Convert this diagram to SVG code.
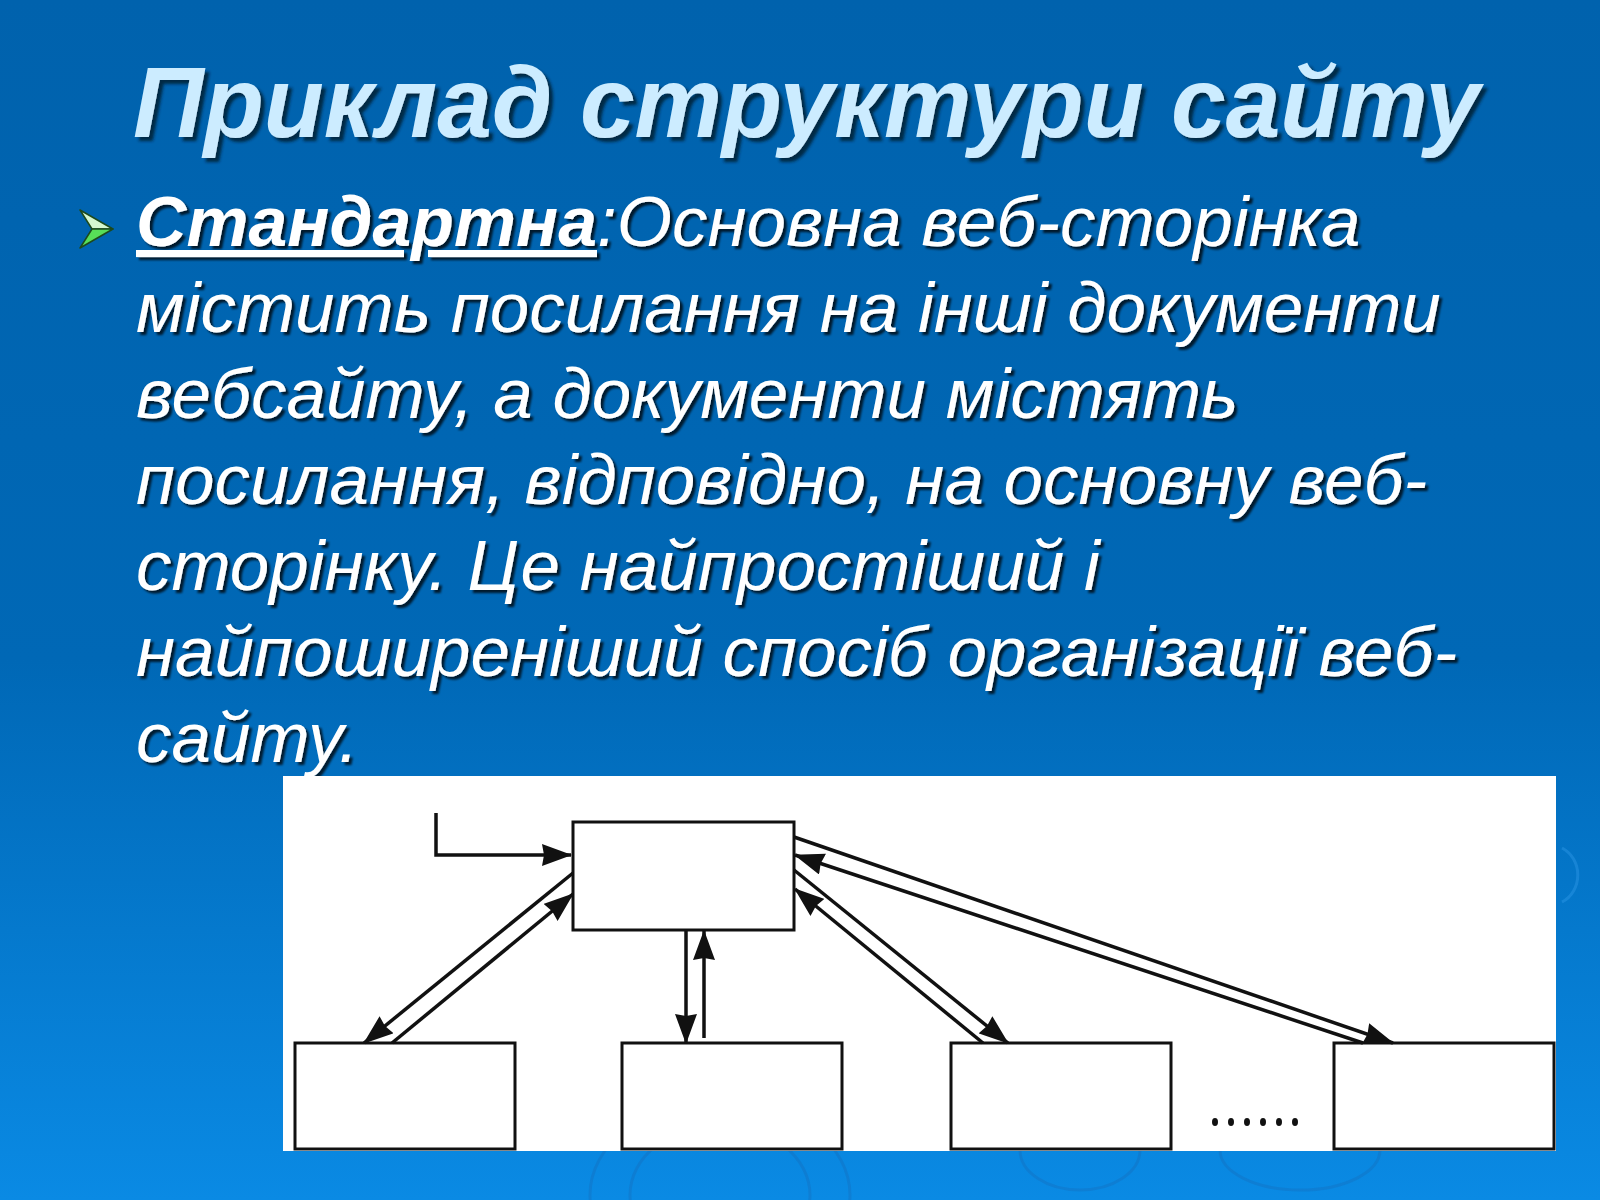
<svg xmlns="http://www.w3.org/2000/svg" width="1600" height="1200" viewBox="0 0 1600 1200">
  <defs>
    <linearGradient id="bg" x1="0" y1="0" x2="0" y2="1">
      <stop offset="0" stop-color="#0062ad"/>
      <stop offset="0.55" stop-color="#0068b6"/>
      <stop offset="1" stop-color="#0a8ae4"/>
    </linearGradient>
    <filter id="shadow" x="-5%" y="-20%" width="110%" height="150%">
      <feDropShadow dx="3" dy="3" stdDeviation="1.2" flood-color="#000" flood-opacity="0.75"/>
    </filter>
    <filter id="tshadow" x="-5%" y="-20%" width="110%" height="150%">
      <feDropShadow dx="4" dy="4" stdDeviation="1.5" flood-color="#001a33" flood-opacity="0.85"/>
    </filter>
    <marker id="ah" viewBox="0 0 30 22" refX="29" refY="11" markerWidth="30" markerHeight="22" markerUnits="userSpaceOnUse" orient="auto">
      <path d="M0,0 L30,11 L0,22 L2,11 Z" fill="#111"/>
    </marker>
  </defs>
  <style>
    .title { font-family: "Liberation Sans Narrow", "Liberation Sans", Arial, sans-serif; font-size: 100px; font-weight: bold; font-style: italic; fill: #ccecff; }
    .body { font-family: "Liberation Sans", Arial, sans-serif; font-size: 71px; font-style: italic; fill: #ffffff; }
    .bold { font-weight: bold; text-decoration: underline; }
    .box { fill: #ffffff; stroke: #111; stroke-width: 3; }
    .conn { fill: none; stroke: #111; stroke-width: 3.5; }
    .deco { fill: none; stroke-width: 3; }
  </style>

  <rect x="0" y="0" width="1600" height="1200" fill="url(#bg)"/>

  <g id="decoration" opacity="0.25">
    <ellipse class="deco" cx="720" cy="1195" rx="90" ry="70" stroke="#1a5fa8"/>
    <ellipse class="deco" cx="720" cy="1195" rx="130" ry="95" stroke="#1a5fa8"/>
    <ellipse class="deco" cx="1080" cy="1150" rx="60" ry="40" stroke="#1a5fa8"/>
    <ellipse class="deco" cx="1300" cy="1150" rx="80" ry="40" stroke="#1a5fa8"/>
    <path class="deco" d="M1562,848 A28,30 0 0 1 1562,902" stroke="#4fb2ff"/>
  </g>

  <g id="title" filter="url(#tshadow)">
    <text class="title" x="133" y="137" textLength="1347" lengthAdjust="spacingAndGlyphs">Приклад структури сайту</text>
  </g>

  <g id="bullet">
    <path d="M80,210 L113,229 L92,229 Z" fill="#d6f7d0" stroke="#1d4a1d" stroke-width="1.5" stroke-linejoin="round"/>
    <path d="M80,248 L113,229 L92,229 Z" fill="#58de58" stroke="#1d4a1d" stroke-width="1.5" stroke-linejoin="round"/>
  </g>

  <g id="body" filter="url(#shadow)">
    <text class="body" x="136" y="246"><tspan class="bold" textLength="461" lengthAdjust="spacingAndGlyphs">Стандартна</tspan>:Основна веб-сторінка</text>
    <text class="body" x="136" y="332">містить посилання на інші документи</text>
    <text class="body" x="136" y="418">вебсайту, а документи містять</text>
    <text class="body" x="136" y="504">посилання, відповідно, на основну веб-</text>
    <text class="body" x="136" y="590">сторінку. Це найпростіший і</text>
    <text class="body" x="136" y="676">найпоширеніший спосіб організації веб-</text>
    <text class="body" x="136" y="762">сайту.</text>
  </g>

  <rect id="panel" x="283" y="776" width="1273" height="375" fill="#ffffff"/>

  <g id="main-page"><rect class="box" x="573" y="822" width="221" height="108"/></g>
  <g id="page-1"><rect class="box" x="295" y="1043" width="220" height="106"/></g>
  <g id="page-2"><rect class="box" x="622" y="1043" width="220" height="106"/></g>
  <g id="page-3"><rect class="box" x="951" y="1043" width="220" height="106"/></g>
  <g id="page-n"><rect class="box" x="1334" y="1043" width="220" height="106"/></g>

  <g id="ellipsis" fill="#111">
    <ellipse cx="1215" cy="1122" rx="3" ry="4"/>
    <ellipse cx="1231" cy="1122" rx="3" ry="4"/>
    <ellipse cx="1247" cy="1122" rx="3" ry="4"/>
    <ellipse cx="1263" cy="1122" rx="3" ry="4"/>
    <ellipse cx="1279" cy="1122" rx="3" ry="4"/>
    <ellipse cx="1295" cy="1122" rx="3" ry="4"/>
  </g>

  <g id="connectors">
    <path class="conn" d="M436,813 L436,855 L571,855" marker-end="url(#ah)"/>
    <path class="conn" d="M573,873 L364,1043" marker-end="url(#ah)"/>
    <path class="conn" d="M392,1043 L573,894" marker-end="url(#ah)"/>
    <path class="conn" d="M686,930 L686,1043" marker-end="url(#ah)"/>
    <path class="conn" d="M704,1038 L704,931" marker-end="url(#ah)"/>
    <path class="conn" d="M794,870 L1008,1043" marker-end="url(#ah)"/>
    <path class="conn" d="M983,1043 L795,889" marker-end="url(#ah)"/>
    <path class="conn" d="M794,837 L1393,1043" marker-end="url(#ah)"/>
    <path class="conn" d="M1363,1043 L795,855" marker-end="url(#ah)"/>
  </g>
</svg>
